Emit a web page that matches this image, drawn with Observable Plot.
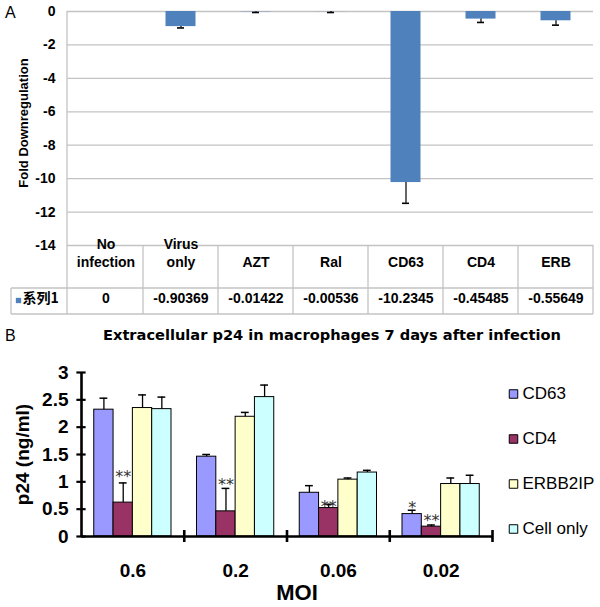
<!DOCTYPE html>
<html><head><meta charset="utf-8">
<script src="https://cdn.jsdelivr.net/npm/d3@7"></script>
<script src="https://cdn.jsdelivr.net/npm/@observablehq/plot@0.6"></script>
<style>
body{margin:0;background:#fff;}
#wrap{position:relative;width:600px;height:607px;overflow:hidden;font-family:"Liberation Sans",Arial,sans-serif;color:#000;}
.abs{position:absolute;white-space:nowrap;line-height:1;}
</style></head><body><div id="wrap"></div>
<script>
// ---------- Panel A data ----------
const treatments = ["No infection","Virus only","AZT","Ral","CD63","CD4","ERB"];
const headerLabels = ["No\ninfection","Virus\nonly","AZT","Ral","CD63","CD4","ERB"];
const foldValues = [0,-0.90369,-0.01422,-0.00536,-10.2345,-0.45485,-0.55649];
const foldErrors = [0,0.08,0.045,0.055,1.24,0.2,0.26];
const seriesName = "系列1";
const foldTicks = [0,-2,-4,-6,-8,-10,-12,-14];

// ---------- Panel B data ----------
const moiLabels = ["0.6","0.2","0.06","0.02"];
const groups = ["CD63","CD4","ERBB2IP","Cell only"];
const groupColors = ["#9999ff","#993366","#ffffcc","#ccffff"];
const cd63 = [2.32,1.46,0.80,0.41];
const cd4 = [0.62,0.46,0.52,0.18];
const erbb2ip = [2.35,2.19,1.04,0.96];
const cellOnly = [2.33,2.55,1.17,0.96];
const cd63Err = [0.21,0.04,0.13,0.07];
const cd4Err = [0.36,0.42,0.07,0.03];
const erbb2ipErr = [0.24,0.08,0.03,0.11];
const cellOnlyErr = [0.22,0.22,0.04,0.16];
const cd63Sig = ["","","","*"];
const cd4Sig = ["**","**","**","**"];
const cd63SigLevel = [0,0,0,0.60];
const cd4SigLevel = [1.16,1.01,0.62,0.35];
const p24Ticks = [0,0.5,1,1.5,2,2.5,3];

const wrap = document.getElementById("wrap");
function addDiv(text, css) { const d = document.createElement("div"); d.className = "abs"; d.textContent = text; Object.assign(d.style, css); wrap.appendChild(d); return d; }

// ---------- Panel A ----------
const dataA = treatments.map((t,i)=>({t, label: headerLabels[i], v: foldValues[i], e: foldErrors[i], lo: foldValues[i]-foldErrors[i]}));

function tableLines(index, scales, values, dims) {
  const x = scales.x;
  const bw = x.bandwidth ? x.bandwidth() : (dims.width - dims.marginLeft - dims.marginRight) / treatments.length;
  const top = dims.height - dims.marginBottom, mid = top + 43, bot = top + 69;
  const left = dims.marginLeft, right = dims.width - dims.marginRight, outer = left - 56;
  const g = d3.create("svg:g").attr("stroke","#c3c3c3").attr("stroke-width",1.3).attr("fill","none");
  g.append("line").attr("x1",left).attr("x2",left).attr("y1",dims.marginTop).attr("y2",bot);
  treatments.forEach(t => { const xr = x(t) + bw; g.append("line").attr("x1",xr).attr("x2",xr).attr("y1",top).attr("y2",bot); });
  g.append("line").attr("x1",outer).attr("x2",right).attr("y1",mid).attr("y2",mid);
  g.append("line").attr("x1",outer).attr("x2",right).attr("y1",bot).attr("y2",bot);
  g.append("line").attr("x1",outer).attr("x2",outer).attr("y1",mid).attr("y2",bot);
  return g.node();
}

const errA = dataA.filter(d => d.e > 0);
const plotA = Plot.plot({
  width: 600, height: 318, marginTop: 11, marginLeft: 67, marginRight: 7, marginBottom: 73,
  style: {fontFamily: "Liberation Sans, Arial, sans-serif", fontSize: "14px", fontWeight: "bold", color: "#000", background: "transparent", overflow: "visible"},
  x: {domain: treatments, padding: 0, axis: null},
  y: {domain: [-14, 0], ticks: foldTicks, tickFormat: d => String(d), tickSize: 0, tickPadding: 12, label: null},
  marks: [
    Plot.ruleY(foldTicks, {stroke: "#c3c3c3", strokeWidth: 1.3}),
    tableLines,
    Plot.barY(dataA, {x: "t", y: "v", fill: "#4f81bd", insetLeft: 22.5, insetRight: 22.5}),
    Plot.ruleX(errA, {x: "t", y1: "v", y2: "lo", stroke: "#000", strokeWidth: 1.2}),
    Plot.tickY(errA, {x: "t", y: "lo", stroke: "#000", strokeWidth: 1.6, inset: 34}),
    Plot.text(dataA, {x: "t", text: "label", frameAnchor: "bottom", dy: 21, lineHeight: 1.25, fontSize: 14}),
    Plot.text(dataA, {x: "t", text: d => String(d.v), frameAnchor: "bottom", dy: 57, fontSize: 14}),
    Plot.text([seriesName], {frameAnchor: "bottom-left", dx: -45, dy: 57, textAnchor: "start", fontSize: 14, fontFamily: "Noto Sans CJK SC"}),
    Plot.dot([seriesName], {frameAnchor: "bottom-left", dx: -49, dy: 55, symbol: "square", r: 3, fill: "#4f81bd"}),
    Plot.text(["Fold Downregulation"], {frameAnchor: "left", textAnchor: "middle", rotate: -90, dx: -44, dy: -5.5, fontSize: 13})
  ]
});
plotA.style.position = "absolute"; plotA.style.left = "0px"; plotA.style.top = "0px";
wrap.appendChild(plotA);

addDiv("A", {left: "5px", top: "5px", fontSize: "16px"});
addDiv("B", {left: "5px", top: "328px", fontSize: "16px"});
addDiv("Extracellular p24 in macrophages 7 days after infection", {left: "103px", top: "328px", fontSize: "14.6px", fontWeight: "bold", fontFamily: "DejaVu Sans"});

// ---------- Panel B ----------
const seriesArrays = [cd63, cd4, erbb2ip, cellOnly];
const errArrays = [cd63Err, cd4Err, erbb2ipErr, cellOnlyErr];
const sigArrays = [cd63Sig, cd4Sig, ["","","",""], ["","","",""]];
const sigLevels = [cd63SigLevel, cd4SigLevel, [0,0,0,0], [0,0,0,0]];
const offset = d3.scaleBand().domain(groups).range([0, 1]).paddingInner(0).paddingOuter(0.66);
const dataB = [];
moiLabels.forEach((m, i) => groups.forEach((g, j) => {
  const x1 = i + offset(g), x2 = x1 + offset.bandwidth();
  dataB.push({m, g, v: seriesArrays[j][i], e: errArrays[j][i], s: sigArrays[j][i], sl: sigLevels[j][i], x1, x2, xc: (x1 + x2) / 2});
}));
const capHalf = 0.038;
const plotB = Plot.plot({
  width: 600, height: 257, marginTop: 22, marginBottom: 71, marginLeft: 81, marginRight: 108,
  style: {fontFamily: "Liberation Sans, Arial, sans-serif", fontSize: "19px", fontWeight: "bold", color: "#000", background: "transparent", overflow: "visible"},
  x: {domain: [0, 4], ticks: [0.5, 1.5, 2.5, 3.5], tickFormat: d => moiLabels[Math.floor(d)], tickSize: 0, tickPadding: 27, label: null},
  y: {domain: [0, 3], ticks: p24Ticks, tickFormat: d => String(d), tickSize: 0, tickPadding: 13, label: null},
  color: {domain: groups, range: groupColors},
  marks: [
    Plot.rectY(dataB, {x1: "x1", x2: "x2", y1: 0, y2: "v", fill: "g", stroke: "#000", strokeWidth: 1}),
    Plot.ruleX(dataB, {x: "xc", y1: "v", y2: d => d.v + d.e, stroke: "#000", strokeWidth: 1.3}),
    Plot.ruleY(dataB, {y: d => d.v + d.e, x1: d => d.xc - capHalf, x2: d => d.xc + capHalf, stroke: "#000", strokeWidth: 1.5}),
    Plot.text(dataB.filter(d => d.s), {x: "xc", y: "sl", text: "s", fontSize: 16, fontWeight: "normal", fontFamily: "DejaVu Sans", fill: "#333", dy: 4}),
    Plot.ruleY([0], {stroke: "#000", strokeWidth: 2.6}),
    Plot.ruleX([0], {stroke: "#000", strokeWidth: 2.6}),
    Plot.ruleX([1, 2, 3, 4], {y1: -0.11, y2: 0.11, stroke: "#000", strokeWidth: 2.6}),
    Plot.ruleY(p24Ticks, {x1: -0.045, x2: 0.045, stroke: "#000", strokeWidth: 2.2}),
    Plot.text(["MOI"], {frameAnchor: "bottom", dx: 10, dy: 63, fontSize: 22}),
    Plot.text(["p24 (ng/ml)"], {frameAnchor: "left", textAnchor: "middle", rotate: -90, dx: -59, fontSize: 19})
  ]
});
plotB.style.position = "absolute"; plotB.style.left = "0px"; plotB.style.top = "350px";
wrap.appendChild(plotB);

// ---------- Panel B legend ----------
const legend = Plot.plot({
  width: 95, height: 181, margin: 0,
  style: {fontFamily: "Liberation Sans, Arial, sans-serif", fontSize: "17px", color: "#000", background: "transparent", overflow: "visible"},
  x: {axis: null},
  y: {type: "band", domain: groups, padding: 0, axis: null},
  color: {domain: groups, range: groupColors},
  marks: [
    Plot.dot(groups, {y: d => d, frameAnchor: "left", dx: 8, symbol: "square", r: 4.8, fill: d => d, stroke: "#000", strokeWidth: 1}),
    Plot.text(groups, {y: d => d, text: d => d, frameAnchor: "left", dx: 17, textAnchor: "start", fontSize: 17})
  ]
});
legend.style.position = "absolute"; legend.style.left = "505px"; legend.style.top = "370px";
wrap.appendChild(legend);
</script></body></html>
